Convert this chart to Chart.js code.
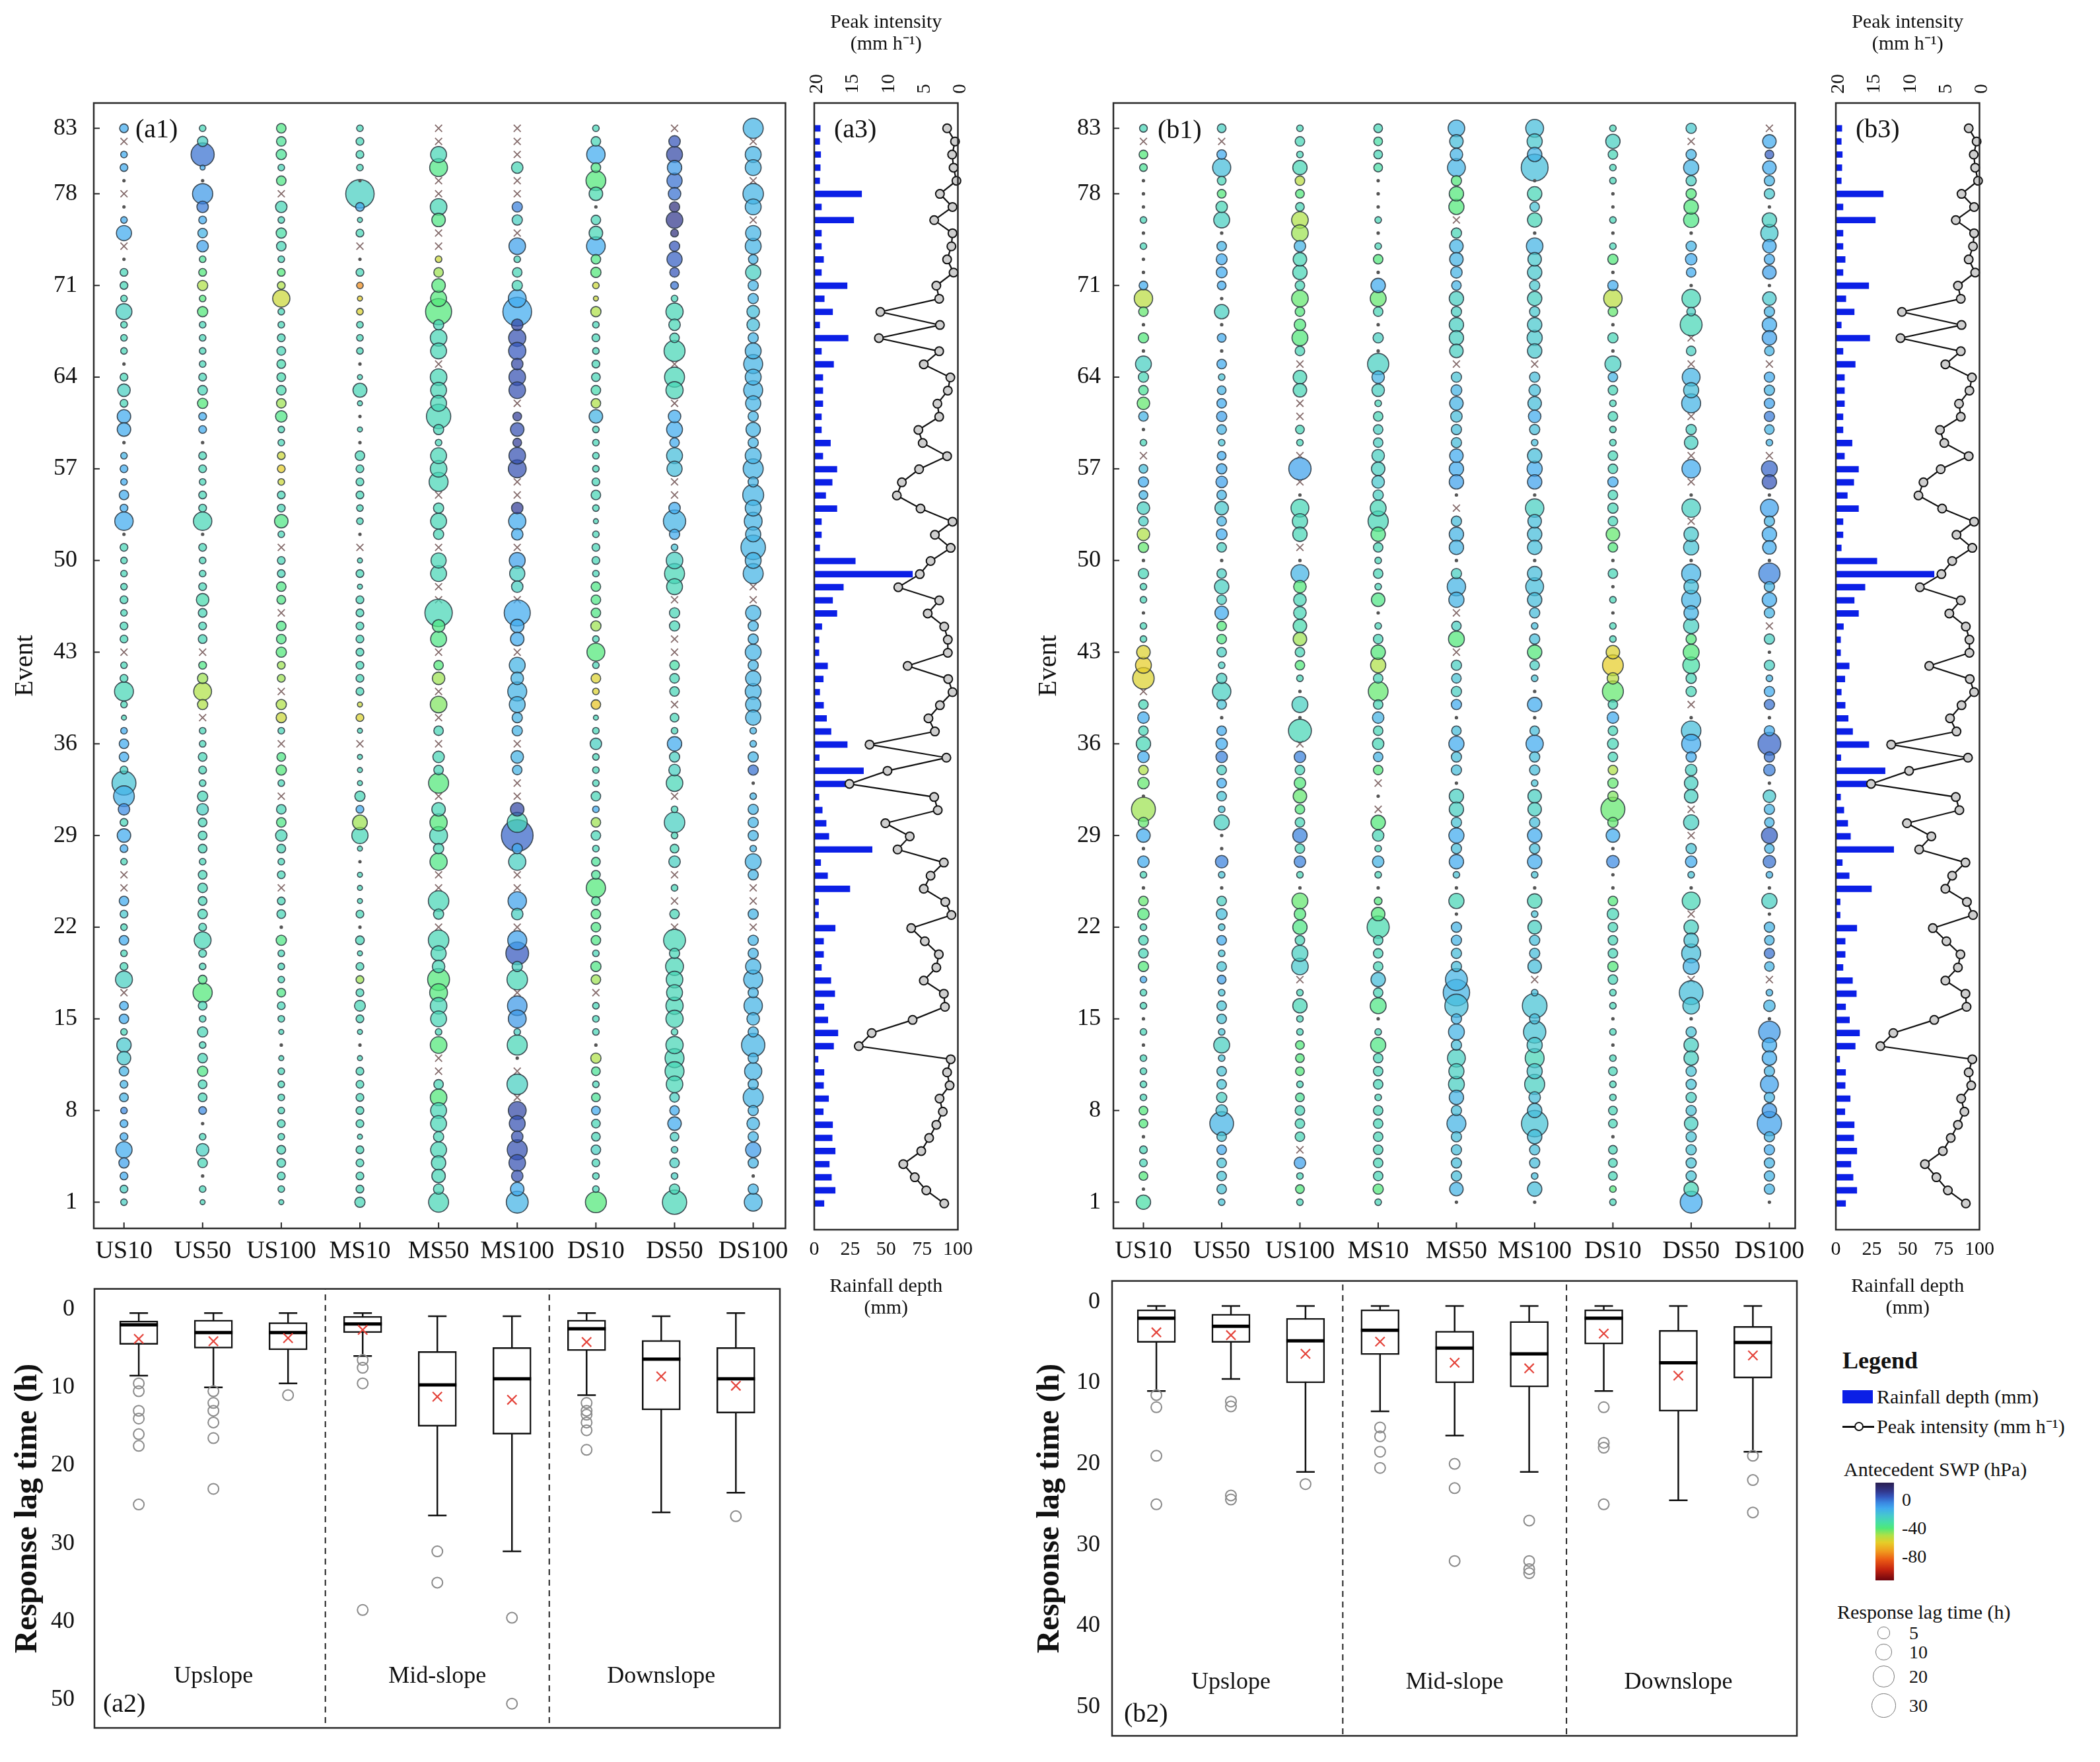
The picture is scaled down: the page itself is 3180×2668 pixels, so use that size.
<!DOCTYPE html>
<html>
<head>
<meta charset="utf-8">
<title>Soil water response lag times</title>
<script src="https://cdn.jsdelivr.net/npm/chart.js@4.4.1/dist/chart.umd.min.js"></script>
<style>
  body { margin: 0; background: #fff; width: 3180px; height: 2668px; position: relative; overflow: hidden;
         font-family: 'Liberation Serif', 'Times New Roman', serif; color: #111; }
  canvas { position: absolute; }
  .t { position: absolute; white-space: nowrap; }
</style>
</head>
<body>
<canvas id="a1" width="1215" height="1830" style="left:0;top:100px"></canvas>
<canvas id="b1" width="1205" height="1830" style="left:1540px;top:100px"></canvas>
<canvas id="a2" width="1215" height="768" style="left:0;top:1900px"></canvas>
<canvas id="b2" width="1215" height="768" style="left:1540px;top:1900px"></canvas>
<canvas id="a3" width="280" height="2010" style="left:1205px;top:0"></canvas>
<canvas id="b3" width="280" height="2010" style="left:2752px;top:0"></canvas>
<script>
Chart.defaults.font.family = "'Liberation Serif', 'Times New Roman', serif";
Chart.defaults.color = '#111';

var siteNames = ['US10', 'US50', 'US100', 'MS10', 'MS50', 'MS100', 'DS10', 'DS50', 'DS100'];
var eventTicks = [1, 8, 15, 22, 29, 36, 43, 50, 57, 64, 71, 78, 83];
var lagTicks = [0, 10, 20, 30, 40, 50];
var depthTicks = [0, 25, 50, 75, 100];
var intensityTicks = [0, 5, 10, 15, 20];
var groupNames = ['Upslope', 'Mid-slope', 'Downslope'];
var groupCentres = [1, 4, 7];
var legendLags = [5, 10, 20, 30];
var swpLabels = [0, -40, -80];

// every per-event list below runs from event 83 (top) down to event 1
var rainDepth = [4.2,3.8,4.5,4.2,3.8,33,5,27.5,5,5, 6.5,5,22.9,7,12.8,3.8,23.6,5,13.5,6, 6,6,5,5,11.3,6,15.8,12.5,8,15.8, 5,5,3.8,28.6,68.4,20.3,12.8,15.8,5.3,3.3, 3.3,
  9.3,6.3,3.8,6.5,8.6,11.7,23,3.5,34.3,24.8, 3.3,5.6,8.3,10.2,40.3,4.5,9.3,24.8,3,3, 14.6,6.5,6.5,5,11.6,14.3,6.8,9.5,16.5,13.5, 2.7,6.8,6.5,10,6.3,12.8,12.5,14.6,10.5,12, 14.6,6.8];
var peakIntensity = [1.5,0.4,0.8,0.6,0.2,2.5,0.75,3.3,0.75,0.9, 1.5,0.6,3,2.6,10.8,2.5,11,2.6,4.75,1.05, 1.4,2.85,2.6,5.5,4.9,1.5,5.4,7.8,8.5,5.2, 0.75,3.2,1,3.8,5.3,8.3,2.6,4.2,1.9,1.4, 1.4,
  7,1.35,0.75,2.5,4.1,3.2,12.3,1.6,9.8,15.1, 3.3,2.8,10.1,6.7,8.4,1.95,3.8,4.75,1.75,0.9, 6.5,4.6,2.65,3,4.75,1.95,1.8,6.3,12,13.8, 1,1.5,1.15,2.55,2.1,3,4,5.1,7.6,6, 4.4,1.9];

// response lag (h); null = no response (x marker), 0 = immediate (dot)
var lagA_US10 = [2,null,1,1.5,0,null,0,1,8,null, 0,1.5,1.5,1,9,1,1,1,0,1.5, 5,1.5,6,6,0,1,1.5,1,2.5,1.5, 13,0,1.5,1,1,1,1.5,1,1.5,1.5, null,
  1,1.5,14,1,0.5,1,2.5,2.5,1.5,25, 17.5,4,1.5,6,1.5,1,null,null,2.5,1.5, 1,2.5,1,1.5,10.5,null,2,2.5,1,7, 6,2.5,1.5,2,1,1.5,1.5,9.5,3,1.5, 1.5,1];
var lagA_US50 = [1,3,23,0.5,0,16.5,4,1.5,2.5,4, 1,1.5,3,1,3,1,1,1,1,1.5, 2.5,3,1.5,1.5,0,1.5,1.5,1,1.5,1.5, 13,0,1.5,1,1,1.5,5,2,1.5,2, null,
  1.5,3,12,3,null,1,1,2,1.5,1, 3,4,2,2,2,1,2,2.5,2,2.5, 1.5,10.5,1.5,1,2,14.5,2,1,3,1, 2.5,3,2,2,1.5,0,1,5,2.5,0, 1,0.5];
var lagA_US100 = [2.5,2.5,3,1,2.5,null,4,1,3,2.5, 1,1.5,1.5,11,1,1,1.5,2,2,2, 2.5,2.5,4,1,1,1.5,1.5,1,1.5,1.5, 6,1,null,1.5,1.5,2.5,2,null,2.5,2.5, 3,
  1.5,1.5,null,3,3,1,null,2,3,1, null,2.5,2.5,4,2,1,1.5,null,1.5,2, 0,3,1,1,1,2,1.5,1,0.5,0, 0.5,1,1,1,1,1.5,1,2,2,1.5, 1,0.5];
var lagA_MS10 = [1,1.5,1.5,1,0,38.5,2,0.5,1.5,null, 0,1.5,1,0.5,1,1,1,1,0,0.5, 6.5,0.5,0,0.5,0,2.5,1.5,1.5,1.5,1, 1,0,null,0.5,1.5,0.5,1.5,1.5,1.5,1.5, 1.5,
  1.5,1.5,1.5,0.5,1.5,0.5,null,0.5,0.5,0.5, 3,1.5,7.5,9.5,0.5,0,0.5,0.5,0.5,1.5, 0,2,0.5,1.5,1.5,1.5,3.5,1.5,0.5,0, 0.5,1.5,1.5,1.5,1.5,1.5,0.5,1.5,1.5,1.5, 1.5,3];
var lagA_MS50 = [null,null,9,12,null,null,10,6,null,null, 1,2.5,6,9,31,3,10,9,null,10, 9,9,26,3,1,9,10,14,null,3, 9,3,null,8,9,null,null,35,5,9, null,
  2.5,5,null,10,null,2.5,null,4,2.5,16, null,6,11,12,3,11,null,null,17,3, null,17,8,5,20,12,10,9,1,10, null,null,2.5,10,9,9,3,9,7,6, 3,16];
var lagA_MS100 = [null,null,null,4,null,null,3,3,null,10, 1,2.5,3,12,39.5,4,11,11,4,10, 10,null,2,6,2,10,12,null,null,4, 11,4,null,9,8,4,null,31,6,6, null,
  9,5,14,9,3,3,null,5,2.5,null, null,6,16,50.5,3,11,null,null,13,4, null,14,22,3,17,null,15,12,1,16, 0,null,17,null,12,9,4,16,10,4, 6,20];
var lagA_DS10 = [1,2.5,13,2.5,15.5,6,0,2.5,6,13.5, 2.5,3,1,0.5,3,1,1.5,1,1.5,2, 2.5,2.5,6,1,1,1,1,1.5,2.5,1, 0.5,1,1.5,1.5,1,2.5,2.5,2.5,3,1, 12,
  1,2.5,1,2.5,0.5,1,4,1,1,1, 2.5,1,2.5,2.5,1,2,2,14.5,2,2.5, 2.5,2.5,1,3,2.5,null,1,1,1,0, 3,2,1,2,2,2,2,2.5,1.5,1, 1,18];
var lagA_DS50 = [null,4,9,7,8,5,3,10,1.5,3, 8,2.5,1.5,1,11,4,2.5,18,null,16, 11,null,5,9,2.5,9,8,null,null,4, 21,3,1,10,16,9,null,3,3,null, null,
  2.5,2.5,2.5,null,2,1,7,3,4,10, null,1,17,1,2,4,null,1,null,2.5, null,20,3,12,10,9,11,11,1,11, 14,14,10,2.5,2.5,6,2,1,2.5,1, 3,26];
var lagA_DS100 = [16,null,9,9,null,17,9,null,8,9, 2.5,8,3,3,5,5,3,9,14,9, 14,8,3,7,3,9,16,3,18,9, 12,8,26.5,9,16,null,null,8,3,3, 9,
  3,8,9,8,8,1,1,3,3,0, 1,3,3,3,1,9,3,null,null,3, null,3,3,8,14,3,13,5,3,23.5, 3,11,3,16,3,5,3,8,3,0, 3,12];

// antecedent soil water potential (hPa)
var swpA_US10 = [-12,null,-12,-12,-15,null,-15,-12,-12,null, -25,-28,-28,-28,-25,-28,-28,-28,-28,-28, -25,-28,-12,-12,-15,-15,-12,-12,-12,-12, -12,-20,-28,-28,-28,-28,-28,-28,-28,-28, null,
  -28,-28,-28,-28,-28,-12,-12,-12,-25,-20, -14,-5,-28,-12,-12,-28,null,null,-12,-22, -28,-12,-28,-28,-25,null,-12,-12,-28,-22, -22,-15,-15,-15,-5,-12,-12,-12,-10,-12, -25,-25];
var swpA_US50 = [-28,-25,0,-12,-15,-8,-2,-12,-15,-10, -35,-40,-50,-40,-40,-28,-28,-28,-28,-28, -28,-40,-12,-12,-20,-28,-28,-28,-28,-28, -28,-28,-28,-28,-28,-28,-30,-28,-28,-28, null,
  -38,-48,-50,-50,null,-28,-28,-28,-28,-28, -28,-25,-28,-28,-28,-28,-28,-28,-28,-28, -28,-28,-28,-28,-38,-40,-28,-28,-28,-28, -28,-38,-28,-28,-5,-28,-28,-25,-28,-28, -28,-28];
var swpA_US100 = [-38,-35,-35,-28,-38,null,-28,-28,-32,-28, -28,-40,-50,-55,-28,-28,-28,-28,-30,-30, -30,-48,-38,-28,-28,-55,-60,-55,-28,-28, -38,-28,null,-28,-28,-38,-38,null,-38,-38, -40,
  -48,-48,null,-50,-55,-28,null,-38,-40,-28, null,-28,-38,-28,-28,-28,-28,null,-28,-28, -28,-38,-28,-28,-28,-38,-28,-28,-28,-28, -28,-28,-28,-28,-28,-28,-28,-28,-28,-28, -28,-28];
var swpA_MS10 = [-28,-28,-28,-28,-28,-25,-12,-28,-28,null, -28,-28,-75,-60,-58,-28,-28,-28,-28,-28, -28,-28,-28,-28,-28,-28,-28,-28,-28,-28, -28,-28,null,-28,-28,-28,-28,-28,-28,-28, -28,
  -28,-28,-28,-55,-58,-28,null,-28,-28,-28, -28,-12,-48,-28,-28,-28,-28,-28,-28,-28, -28,-28,-28,-28,-48,-28,-28,-28,-28,-28, -28,-28,-28,-28,-28,-28,-28,-28,-28,-28, -28,-28];
var swpA_MS50 = [null,null,-28,-38,null,null,-28,-38,null,null, -55,-48,-40,-40,-40,-28,-28,-28,null,-28, -28,-28,-28,-28,-28,-28,-28,-28,null,-28, -28,-28,null,-28,-28,null,null,-28,-38,-38, null,
  -40,-48,null,-45,null,-28,null,-28,-28,-40, null,-28,-40,-28,-28,-38,null,null,-28,-28, null,-28,-28,-28,-40,-40,-28,-28,-28,-40, null,null,-28,-40,-28,-28,-28,-28,-28,-28, -28,-28];
var swpA_MS100 = [null,null,null,-28,null,null,-3,-25,null,-10, -28,-28,-28,-12,-12,8,6,4,8,6, 6,null,10,6,10,6,6,null,null,10, -12,-12,null,-10,-25,-25,null,-12,-12,-12, null,
  -15,-15,-15,-15,-15,-15,null,-15,-15,null, null,8,-28,2,-12,-25,null,null,-10,-25, null,-10,4,-25,-28,null,-8,-8,-25,-28, -20,null,-25,null,8,6,6,6,6,6, -12,-15];
var swpA_DS10 = [-28,-28,-12,-38,-40,-30,-28,-28,-28,-12, -38,-40,-55,-55,-50,-28,-28,-28,-28,-28, -30,-50,-15,-28,-28,-28,-28,-28,-28,-28, -28,-28,-28,-28,-28,-38,-38,-38,-48,-28, -40,
  -28,-58,-58,-62,-28,-28,-25,-28,-28,-28, -28,-12,-48,-28,-28,-35,-35,-40,-35,-38, -38,-38,-28,-38,-48,null,-28,-28,-28,-28, -50,-35,-28,-35,-12,-28,-28,-25,-28,-28, -28,-40];
var swpA_DS50 = [null,5,8,-8,0,0,15,12,15,5, 3,5,0,-28,-28,-28,-28,-28,null,-28, -28,null,-12,-12,-12,-18,-18,null,null,-12, -15,-12,-20,-25,-28,-28,null,-28,-28,null, null,
  -32,-28,-28,null,-28,-28,-12,-25,-25,-28, null,-28,-25,-28,-28,-25,null,-28,null,-28, null,-28,-28,-28,-28,-28,-28,-28,-28,-28, -28,-28,-28,-25,-12,-12,-25,-25,-25,-25, -28,-28];
var swpA_DS100 = [-15,null,-15,-15,null,-15,-15,null,-15,-15, -15,-25,-15,-15,-18,-18,-15,-15,-15,-15, -15,-15,-15,-15,-15,-15,-15,-15,-15,-15, -15,-15,-15,-15,-15,null,null,-15,-15,-15, -15,
  -15,-15,-15,-15,-15,-15,-15,-15,0,-15, -15,-15,-15,-15,-15,-15,-15,null,null,-15, null,-15,-15,-15,-15,-15,-15,-15,-15,-15, -15,-15,-15,-15,-15,-15,-15,-8,-15,-15, -15,-15];

var lagB_US10 = [1.5,null,2,1.5,0,0,0,1,0,1, 0,0,2,13,2.5,0,3,0,9,3, 2.5,5,2.5,0,1,null,2,3,2,5, 2.5,5,3,0,3,1,1,0,1,1, 6,
  9,19,null,2.5,4,2.5,7,4,2.5,4, 0,25,3,6,0,4,1,0,2.5,4, 1,2.5,2.5,3,1,1,1,0,1,0, 1,1,1,1,2,2,0,1.5,1.5,2, 0,7];
var lagB_US50 = [2,null,2.5,12.5,2,2,4,9,0,2.5, 3.5,3.5,2,0,7,0,2,0,2.5,1, 2,2.5,3,2.5,1,2,3,4,2.5,6, 2.5,3.5,2.5,0,2.5,7,2.5,6,2.5,2.5, 2.5,
  1,3,13,2.5,0,2.5,4,4,2.5,2.5, 2.5,1,8,0,0,5,1,0,2.5,3.5, 1,2.5,1,2.5,2,1,2.5,2.5,1,9, 1,2.5,2.5,3,4,24.5,2.5,2.5,2.5,2.5, 2.5,1];
var lagB_US100 = [1,2.5,1,7,2.5,2,2,10,10,4, 6,7,2.5,10,2.5,4,9,2.5,null,6, 6,null,null,2,1,null,21,null,0,12, 8,7,null,0,12,5,5,5,6,6, 2.5,
  2.5,1,0,9,0,22.5,null,4,2.5,4, 6,2.5,2.5,7,2.5,4,1,0,9,4, 7,2.5,9,10,null,1,7,1,1,2, 2,2,1,2,2.5,2.5,2.5,null,4,1, 2,1];
var lagB_MS10 = [2,2,2,2,0,0,0,1,0,1, 2.5,0,7,9,2.5,0,3,0,18.5,5, 5,1,2.5,2.5,2.5,5,6,5,3,9, 16.5,7,2.5,1,2.5,1,6,0,1,2.5, 7,
  8,2.5,15.5,2.5,4,2.5,4,2.5,2.5,null, 0,null,7,4,1,4,1,0,1.5,6, 20.5,2.5,2.5,2.5,7,2.5,9,0,1,8, 2.5,2.5,2.5,1,2.5,2.5,2.5,2.5,2.5,2.5, 3,1];
var lagB_MS50 = [10,6,5,12,3,7,8,null,3,6, 6,4,2.5,7,3,7,7,6,null,3, 3.5,6,4,3,3,6,7,7,0,null, 3,7,7,0,3,13,8,null,2.5,9, null,
  3,2.5,3,3,0,2.5,8,3,3,0, 7,7,3,8,3,7,1,0,8,0, 3,3,3,3,20,32,23,3,9,3, 12,8,9,7,3,14,3,3,3,3, 6,0];
var lagB_MS100 = [12,8,7,33.5,0,7,2.5,7,0,10, 6,7,3,7,3,7,8,7,null,3, 4,6,5,3,1,7,8,7,0,13, 6,7,7,0,7,12,7,3,1,3, 7,
  2.5,1,0,7,0,2.5,11,3,3,1, 6,6,3,7,3,7,1,0,7,1, 6,3,3,6,null,1,27,3,21,8, 14,8,16,4,7,32,7,3,3,1, 7,0];
var lagB_DS10 = [1,7,2.5,1,1,0,0,1,0,1, 3,0,3,13,2.5,0,3,0,9,2.5, 2.5,1,2.5,1,1,2.5,2.5,3,2.5,3, 2.5,6,2.5,0,2.5,0,1,0,1,1, 6,
  17.5,4,18,2.5,4,2.5,3.5,2.5,2.5,3, 3,25,3,6,0,5,0,0,2.5,4, 2.5,2.5,2.5,3,2.5,1,1,0,1,0, 1,2,1,1,2,2,0,2,2,2, 1,1];
var lagB_DS50 = [3,null,3,8,3,3,7,8,0,3, 4,2.5,0,13,2,20,null,2.5,null,12, 8,14,null,3,6,null,13,null,0,13, null,7,8,0,14,7,14,7,8,3, 9,
  10,3,3,null,0,15,14,3,4,6, 6,null,8,null,3,4,1,0,12,null, 7,7,14,9,null,24.5,10,0,3,7, 7,3,3,3,3,6,3,3,3,3, 7,20];
var lagB_DS100 = [null,6,2,6,3,3,0,7,11,6, 3,6,0,6,3,7,7,2.5,null,3, 3,3,3,2.5,1,null,9,7,0,12, 3,7,6,0,18.5,3,7,3,null,3, 0,
  3,1,3,3,0,3,22,3,4,0, 5,3,2.5,9,2.5,5,1,0,8,0, 3,2.5,3,2.5,null,1,4,0,19,7, 7,3,12,3,7,26,3,3,3,3, 3,0];

var swpB_US10 = [-28,null,-40,-35,-28,-28,-28,-28,-28,-28, -28,-28,-12,-52,-42,-28,-40,-28,-25,-28, -35,-42,-15,-28,-28,null,-18,-12,-15,-25, -25,-50,-42,-28,-28,-28,-28,-28,-28,-28, -58,
  -60,-58,null,-28,-12,-28,-28,-12,-50,-42, -28,-48,-42,-12,-28,-12,-28,-28,-42,-40, -28,-28,-28,-40,-12,-28,-28,-28,-28,-28, -28,-28,-28,-28,-40,-40,-28,-28,-28,-40, -28,-32];
var swpB_US50 = [-25,null,-12,-18,-28,-40,-28,-25,-20,-15, -12,-12,-12,-20,-25,-20,-12,-20,-12,-20, -15,-12,-10,-15,-20,-12,-12,-10,-15,-22, -15,-12,-25,-20,-25,-25,-25,-12,-40,-38, -25,
  -25,-25,-25,-20,-20,-12,-12,-3,-25,-12, -20,-20,-25,-20,-20,-3,-20,-20,-25,-18, -20,-12,-20,-20,-10,-20,-20,-20,-20,-25, -20,-20,-20,-25,-20,-15,-20,-12,-20,-20, -20,-20];
var swpB_US100 = [-28,-28,-28,-28,-52,-40,-28,-50,-48,-15, -28,-28,-28,-42,-40,-40,-40,-28,null,-28, -28,null,null,-28,-28,null,-10,null,-28,-28, -28,-28,null,-28,-15,-40,-28,-28,-30,-48, -28,
  -40,-28,-28,-25,-28,-28,null,-3,-28,-40, -42,-40,-28,-3,-28,-3,-28,-28,-42,-40, -38,-28,-25,-22,null,-28,-28,-28,-28,-40, -40,-40,-28,-35,-28,-28,-28,null,-10,-28, -40,-28];
var swpB_MS10 = [-28,-32,-28,-32,-28,-28,-28,-28,-28,-28, -40,-28,-12,-42,-28,-28,-25,-28,-25,-15, -25,-28,-28,-25,-25,-25,-25,-22,-25,-28, -28,-38,-28,-28,-28,-28,-38,-28,-28,-28, -40,
  -50,-28,-42,-28,-15,-28,-28,-15,-40,null, -28,null,-40,-28,-28,-15,-28,-28,-40,-40, -30,-28,-28,-28,-18,-28,-38,-28,-28,-38, -28,-28,-28,-28,-28,-28,-28,-28,-28,-28, -40,-28];
var swpB_MS50 = [-15,-18,-15,-15,-40,-40,-40,null,-28,-15, -15,-15,-15,-25,-25,-25,-25,-25,null,-20, -15,-15,-18,-18,-18,-12,-12,-10,-20,null, -18,-15,-15,-20,-25,-15,-15,null,-25,-40, null,
  -25,-20,-25,-12,-20,-18,-12,-18,-18,-20, -25,-25,-20,-12,-18,-12,-20,-20,-28,-20, -15,-15,-18,-18,-15,-15,-18,-15,-15,-18, -25,-25,-25,-15,-18,-15,-18,-18,-18,-18, -15,-18];
var swpB_MS100 = [-18,-22,-15,-18,-20,-28,-20,-28,-20,-15, -22,-22,-22,-25,-22,-22,-22,-22,null,-18, -18,-18,-12,-18,-18,-18,-12,-10,-20,-25, -18,-18,-18,-20,-18,-18,-18,-18,-18,-18, -40,
  -25,-20,-20,-12,-20,-18,-12,-18,-18,-20, -25,-25,-18,-12,-18,-12,-20,-20,-28,-20, -25,-18,-18,-18,null,-18,-20,-18,-20,-22, -28,-22,-25,-18,-18,-20,-18,-18,-18,-18, -18,-20];
var swpB_DS10 = [-28,-25,-28,-28,-28,-28,-28,-28,-28,-28, -40,-28,-12,-52,-42,-28,-28,-28,-25,-15, -28,-28,-28,-28,-28,-28,-28,-12,-28,-28, -28,-42,-40,-28,-28,-28,-28,-28,-28,-28, -58,
  -60,-52,-42,-28,-12,-28,-28,-28,-50,-42, -45,-42,-42,-12,-28,-5,-28,-28,-40,-28, -28,-28,-28,-40,-28,-28,-28,-28,-28,-28, -28,-28,-28,-28,-28,-28,-28,-28,-28,-28, -40,-28];
var swpB_DS50 = [-22,null,-15,-15,-25,-40,-40,-38,-20,-15, -12,-12,-20,-28,-25,-28,null,-25,null,-15, -18,-15,null,-25,-25,null,-12,null,-20,-25, null,-22,-20,-20,-15,-18,-15,-15,-25,-40, -40,
  -32,-28,-28,null,-20,-18,-12,-12,-25,-25, -25,null,-25,null,-20,-12,-20,-20,-28,null, -25,-20,-18,-15,null,-18,-20,-20,-20,-25, -25,-20,-20,-25,-20,-25,-20,-20,-20,-20, -28,-12];
var swpB_DS100 = [null,-12,3,-12,-15,-22,-15,-25,-22,-12, -12,-10,-15,-22,-15,-12,-10,-15,null,-12, -15,-10,-2,-15,-15,null,2,5,-15,-10, -15,-12,-12,-15,-3,-15,-12,-15,null,-25, -15,
  -25,-15,-12,0,-15,-12,2,0,-2,-15, -22,-15,-15,3,-15,0,-15,-15,-25,-15, -15,-15,0,-15,null,-15,-15,-15,-8,-12, -12,-15,-10,-15,-8,-10,-15,-12,-15,-15, -15,-15];

// box plot summaries (h), per site in siteNames order
var boxA_lo = [0.5, 0.5, 0.5, 0.5, 0.9, 0.9, 0.5, 0.9, 0.5];
var boxA_q1 = [1.5, 1.4, 1.7, 0.9, 5.4, 4.9, 1.4, 4.0, 4.9];
var boxA_med = [2.0, 3.0, 3.0, 1.9, 9.7, 8.9, 2.5, 6.4, 8.9];
var boxA_q3 = [4.5, 5.0, 5.2, 3.0, 15.0, 16.0, 5.3, 12.9, 13.3];
var boxA_hi = [8.5, 10, 9.5, 6, 26.4, 31, 11, 26, 23.5];
var boxA_mean = [3.8, 4.1, 3.7, 2.65, 11.2, 11.6, 4.2, 8.6, 9.8];
var boxA_out = [[9.5, 10.5, 13, 14, 16, 17.5, 25], [10.5, 12, 13, 14.5, 16.5, 23], [11], [6.5, 7.5, 9.5, 38.5],
  [31, 35], [39.5, 50.5], [12, 13, 13.5, 14.5, 15.5, 18], [], [26.5]];

var boxB_lo = [0.5, 0.5, 0.5, 0.5, 0.5, 0.5, 0.5, 0.5, 0.5];
var boxB_q1 = [0.95, 1.5, 2.0, 0.95, 3.6, 2.4, 0.95, 3.5, 3.0];
var boxB_med = [2.0, 3.0, 4.8, 3.5, 5.7, 6.4, 2.0, 7.5, 5.0];
var boxB_q3 = [5.0, 5.0, 10.0, 6.5, 10.0, 10.5, 5.2, 13.5, 9.4];
var boxB_hi = [11, 9.5, 21, 13.5, 16.5, 21, 11, 24.5, 18.5];
var boxB_mean = [3.75, 4.1, 6.4, 4.9, 7.5, 8.2, 3.9, 9.1, 6.6];
var boxB_out = [[11.5, 13, 19, 25], [12.3, 12.9, 23.9, 24.4], [22.5], [15.5, 16.6, 18.5, 20.5],
  [20, 23, 32], [27, 32, 33, 33.5], [13, 17.4, 18, 25], [], [19, 22, 26]];

// colour map of the SWP colour bar (hPa -> rgb)
var cmapAt = [24, 12, 4, -4, -12, -22, -32, -40, -50, -60, -72, -84, -98, -113];
var cmapRgb = [[42,30,80],[50,55,140],[52,88,190],[58,135,225],[64,170,238],[70,200,205],[70,222,165],
  [80,232,120],[175,225,70],[230,205,40],[240,155,30],[235,90,20],[195,35,15],[110,5,15]];

var lagA = [lagA_US10, lagA_US50, lagA_US100, lagA_MS10, lagA_MS50, lagA_MS100, lagA_DS10, lagA_DS50, lagA_DS100];
var swpA = [swpA_US10, swpA_US50, swpA_US100, swpA_MS10, swpA_MS50, swpA_MS100, swpA_DS10, swpA_DS50, swpA_DS100];
var lagB = [lagB_US10, lagB_US50, lagB_US100, lagB_MS10, lagB_MS50, lagB_MS100, lagB_DS10, lagB_DS50, lagB_DS100];
var swpB = [swpB_US10, swpB_US50, swpB_US100, swpB_MS10, swpB_MS50, swpB_MS100, swpB_DS10, swpB_DS50, swpB_DS100];

function lagRadius(h) { return h > 0 ? 5 * Math.pow(h, 0.4) : 1.8; }

function swpColour(v, a) {
  var n = cmapAt.length;
  var c = cmapRgb[n - 1];
  if (v >= cmapAt[0]) c = cmapRgb[0];
  for (var i = 0; i < n - 1; i++) {
    if (v <= cmapAt[i] && v >= cmapAt[i + 1]) {
      var t = (cmapAt[i] - v) / (cmapAt[i] - cmapAt[i + 1]);
      var c0 = cmapRgb[i], c1 = cmapRgb[i + 1];
      c = [c0[0] + (c1[0] - c0[0]) * t, c0[1] + (c1[1] - c0[1]) * t, c0[2] + (c1[2] - c0[2]) * t];
      break;
    }
  }
  return 'rgba(' + Math.round(c[0]) + ',' + Math.round(c[1]) + ',' + Math.round(c[2]) + ',' + a + ')';
}

// frame, inner ticks, panel letters and slope names
var annotate = {
  id: 'annotate',
  afterDraw: function (chart, args, o) {
    var ctx = chart.ctx, a = chart.chartArea;
    ctx.save();
    ctx.strokeStyle = '#2a2a2a';
    ctx.lineWidth = 2.5;
    if (o.innerTicks) {
      ctx.lineWidth = 2;
      chart.scales.x.ticks.forEach(function (t) {
        var px = chart.scales.x.getPixelForValue(t.value);
        ctx.beginPath(); ctx.moveTo(px, a.bottom); ctx.lineTo(px, a.bottom - 9); ctx.stroke();
      });
      chart.scales.y.ticks.forEach(function (t) {
        var py = chart.scales.y.getPixelForValue(t.value);
        ctx.beginPath(); ctx.moveTo(a.left, py); ctx.lineTo(a.left + 9, py); ctx.stroke();
      });
      ctx.lineWidth = 2.5;
    }
    ctx.strokeRect(a.left, a.top, a.right - a.left, a.bottom - a.top);
    ctx.fillStyle = '#111';
    ctx.textBaseline = 'middle';
    if (o.label) {
      ctx.font = '40px "Liberation Serif"';
      ctx.fillText(o.label, a.left + o.lx, o.ly < 0 ? a.bottom + o.ly : a.top + o.ly);
    }
    if (o.groups) {
      ctx.font = '36px "Liberation Serif"';
      ctx.textAlign = 'center';
      for (var g = 0; g < groupNames.length; g++) {
        ctx.fillText(groupNames[g], chart.scales.x.getPixelForValue(groupCentres[g]), chart.scales.y.getPixelForValue(47));
      }
    }
    ctx.restore();
  }
};

function baseOptions(pad, annot) {
  return {
    responsive: false, animation: false, events: [], devicePixelRatio: 1,
    layout: { padding: pad },
    plugins: { legend: { display: false }, tooltip: { enabled: false }, annotate: annot }
  };
}

function bubblePanel(id, lags, swps, xMin, xMax, yWidth, tickPad, titlePad, padRight, annot) {
  var pts = [], none = [];
  for (var i = 0; i < lags.length; i++) {
    for (var k = 0; k < lags[i].length; k++) {
      if (lags[i][k] === null) none.push({ x: i, y: 83 - k });
      else pts.push({ x: i, y: 83 - k, lag: lags[i][k], swp: swps[i][k] });
    }
  }
  pts.sort(function (p, q) { return q.lag - p.lag; });
  var opts = baseOptions({ top: 56, right: padRight, left: 0, bottom: 0 }, annot);
  opts.scales = {
    x: {
      type: 'linear', min: xMin, max: xMax,
      afterBuildTicks: function (s) { s.ticks = siteNames.map(function (n, i) { return { value: i }; }); },
      ticks: { autoSkip: false, maxRotation: 0, padding: 12, font: { size: 38 },
               callback: function (v) { return siteNames[v]; } },
      grid: { drawOnChartArea: false, drawTicks: false },
      border: { display: false },
      afterFit: function (s) { s.height = 70; }
    },
    y: {
      type: 'linear', min: -1.0, max: 84.93,
      afterBuildTicks: function (s) { s.ticks = eventTicks.map(function (v) { return { value: v }; }); },
      ticks: { autoSkip: false, padding: tickPad, font: { size: 36 } },
      grid: { drawOnChartArea: false, drawTicks: false },
      border: { display: false },
      title: { display: true, text: 'Event', font: { size: 40 }, padding: { top: titlePad, bottom: 0 } },
      afterFit: function (s) { s.width = yWidth; }
    }
  };
  return new Chart(document.getElementById(id), {
    type: 'scatter',
    data: { datasets: [
      { data: pts,
        pointRadius: function (c) { return c.raw ? lagRadius(c.raw.lag) : 3; },
        pointBackgroundColor: function (c) { return c.raw && c.raw.lag > 0 ? swpColour(c.raw.swp, 0.72) : '#555'; },
        pointBorderColor: function (c) { return c.raw && c.raw.lag > 0 ? 'rgba(40,50,60,0.85)' : '#555'; },
        pointBorderWidth: 1.6 },
      { data: none, pointStyle: 'crossRot', pointRadius: 7.5,
        pointBorderColor: 'rgba(120,92,92,0.9)', pointBorderWidth: 1.8 }
    ] },
    options: opts,
    plugins: [annotate]
  });
}

function boxPanel(id, lo, q1, med, q3, hi, mean, out, yWidth, tickPad, titlePad, padRight, annot) {
  var whisk = [], caps = [], boxes = [], meds = [], means = [], outs = [];
  for (var i = 0; i < siteNames.length; i++) {
    whisk.push({ x: i, y: lo[i] }, { x: i, y: hi[i] }, { x: i, y: null });
    caps.push({ x: i, y: lo[i] }, { x: i, y: hi[i] });
    boxes.push({ x: i, y: [q1[i], q3[i]] });
    meds.push({ x: i, y: med[i] });
    means.push({ x: i, y: mean[i] });
    out[i].forEach(function (v) { outs.push({ x: i, y: v }); });
  }
  var seps = [{ x: 2.5, y: -10 }, { x: 2.5, y: 60 }, { x: 2.5, y: null }, { x: 5.5, y: -10 }, { x: 5.5, y: 60 }];
  var opts = baseOptions({ top: 28, right: padRight, left: 0, bottom: 26 }, annot);
  opts.scales = {
    x: { type: 'linear', display: false, offset: false, min: -0.594, max: 8.59 },
    y: {
      type: 'linear', reverse: true, min: -2.6, max: 53.6,
      afterBuildTicks: function (s) { s.ticks = lagTicks.map(function (v) { return { value: v }; }); },
      ticks: { padding: tickPad, font: { size: 36 } },
      grid: { drawOnChartArea: false, drawTicks: false },
      border: { display: false },
      title: { display: true, text: 'Response lag time (h)', font: { size: 48, weight: 'bold' },
               padding: { top: titlePad, bottom: 0 } },
      afterFit: function (s) { s.width = yWidth; }
    }
  };
  return new Chart(document.getElementById(id), {
    type: 'bar',
    data: { datasets: [
      { type: 'line', data: seps, borderColor: '#222', borderWidth: 2, borderDash: [9, 7], pointRadius: 0, spanGaps: false, order: 7 },
      { type: 'line', data: whisk, borderColor: '#111', borderWidth: 2.5, pointRadius: 0, spanGaps: false, order: 6 },
      { data: boxes, backgroundColor: '#fff', borderColor: '#111', borderWidth: 2.5, borderSkipped: false, barThickness: 58, order: 5 },
      { type: 'scatter', data: caps, pointStyle: 'line', pointRadius: 14, pointBorderColor: '#111', pointBorderWidth: 2.5, order: 4 },
      { type: 'scatter', data: meds, pointStyle: 'line', pointRadius: 29, pointBorderColor: '#000', pointBorderWidth: 5, order: 3 },
      { type: 'scatter', data: outs, pointStyle: 'circle', pointRadius: 8, pointBackgroundColor: 'rgba(0,0,0,0)',
        pointBorderColor: '#8a8a8a', pointBorderWidth: 2, order: 2 },
      { type: 'scatter', data: means, pointStyle: 'crossRot', pointRadius: 10, pointBorderColor: '#e4433a', pointBorderWidth: 2.2, order: 1 }
    ] },
    options: opts,
    plugins: [annotate]
  });
}

function rainPanel(id, padRight, annot) {
  var bars = rainDepth.map(function (v, k) { return { x: v, y: 83 - k }; });
  var peaks = peakIntensity.map(function (v, k) { return { x: v, y: 83 - k }; });
  var opts = baseOptions({ top: 10, right: padRight, left: 28, bottom: 8 }, annot);
  opts.indexAxis = 'y';
  opts.scales = {
    y: { type: 'linear', display: false, offset: false, min: -1.0, max: 84.93 },
    x: {
      type: 'linear', position: 'bottom', min: 0, max: 100,
      afterBuildTicks: function (s) { s.ticks = depthTicks.map(function (v) { return { value: v }; }); },
      ticks: { autoSkip: false, maxRotation: 0, padding: 12, font: { size: 30 } },
      grid: { drawOnChartArea: false, drawTicks: false },
      border: { display: false },
      title: { display: true, text: ['Rainfall depth', '(mm)'], font: { size: 30, lineHeight: 1.1 }, padding: { top: 0, bottom: 4 } },
      afterFit: function (s) { s.height = 140; }
    },
    x2: {
      type: 'linear', position: 'top', min: 0, max: 20, reverse: true,
      afterBuildTicks: function (s) { s.ticks = intensityTicks.map(function (v) { return { value: v }; }); },
      ticks: { autoSkip: false, minRotation: 90, maxRotation: 90, labelOffset: 40, padding: 14, font: { size: 30 } },
      grid: { drawOnChartArea: false, drawTicks: false },
      border: { display: false },
      title: { display: true, text: ['Peak intensity', '(mm h\u207B\u00B9)'], font: { size: 30, lineHeight: 1.1 }, padding: { top: 8, bottom: 0 } },
      afterFit: function (s) { s.height = 146; }
    }
  };
  return new Chart(document.getElementById(id), {
    type: 'bar',
    data: { datasets: [
      { type: 'line', data: peaks, xAxisID: 'x2', yAxisID: 'y', indexAxis: 'y', clip: false,
        borderColor: '#111', borderWidth: 2.2, pointRadius: 6.5, pointBackgroundColor: '#cfcfcf',
        pointBorderColor: '#111', pointBorderWidth: 2, order: 0 },
      { data: bars, xAxisID: 'x', yAxisID: 'y', backgroundColor: '#0b1fe6', barThickness: 9, order: 1 }
    ] },
    options: opts,
    plugins: [annotate]
  });
}

bubblePanel('a1', lagA, swpA, -0.384, 8.41, 142, 25, 14, 19, { label: '(a1)', lx: 63, ly: 41, innerTicks: true });
bubblePanel('b1', lagB, swpB, -0.384, 8.33, 146, 19, 24, 15, { label: '(b1)', lx: 67, ly: 42, innerTicks: true });
boxPanel('a2', boxA_lo, boxA_q1, boxA_med, boxA_q3, boxA_hi, boxA_mean, boxA_out, 143, 30, 14, 24,
  { label: '(a2)', lx: 13, ly: -35, groups: true });
boxPanel('b2', boxB_lo, boxB_q1, boxB_med, boxB_q3, boxB_hi, boxB_mean, boxB_out, 144, 18, 22, 21,
  { label: '(b2)', lx: 18, ly: -32, groups: true });
rainPanel('a3', 30, { label: '(a3)', lx: 30, ly: 41 });
rainPanel('b3', 32, { label: '(b3)', lx: 30, ly: 41 });

// legend block on the right
function addText(str, left, mid, size, bold) {
  var d = document.createElement('div');
  d.className = 't';
  d.textContent = str;
  d.style.left = left + 'px';
  d.style.top = (mid - size / 2) + 'px';
  d.style.fontSize = size + 'px';
  d.style.lineHeight = size + 'px';
  if (bold) d.style.fontWeight = 'bold';
  document.body.appendChild(d);
  return d;
}
function addBox(left, top, w, h, css) {
  var d = document.createElement('div');
  d.style.cssText = 'position:absolute;left:' + left + 'px;top:' + top + 'px;width:' + w + 'px;height:' + h + 'px;' + css;
  document.body.appendChild(d);
  return d;
}
addText('Legend', 2790, 2060, 36, true);
addBox(2790, 2105, 46, 20, 'background:#0b1fe6');
addText('Rainfall depth (mm)', 2842, 2115, 30);
addBox(2790, 2159, 48, 2.5, 'background:#111');
addBox(2808, 2153, 10, 10, 'border:2px solid #111;border-radius:50%;background:#fff');
addText('Peak intensity (mm h\u207B\u00B9)', 2842, 2160, 30);
addText('Antecedent SWP (hPa)', 2792, 2225, 30);
var barTop = 2245, barH = 148, span = cmapAt[0] - cmapAt[cmapAt.length - 1];
var stops = cmapAt.map(function (v, i) {
  return 'rgb(' + cmapRgb[i].join(',') + ') ' + ((cmapAt[0] - v) / span * 100).toFixed(1) + '%';
});
addBox(2840, barTop, 28, barH, 'background:linear-gradient(to bottom,' + stops.join(',') + ')');
swpLabels.forEach(function (v) {
  addText(String(v), 2880, barTop + (cmapAt[0] - v) / span * barH, 28);
});
addText('Response lag time (h)', 2782, 2441, 30);
var circleMid = [2473, 2502, 2539, 2583];
legendLags.forEach(function (h, i) {
  var r = lagRadius(h);
  addBox(2853 - r, circleMid[i] - r, 2 * r - 3, 2 * r - 3, 'border:1.5px solid #777;border-radius:50%');
  addText(String(h), 2891, circleMid[i], 28);
});
</script>
</body>
</html>
